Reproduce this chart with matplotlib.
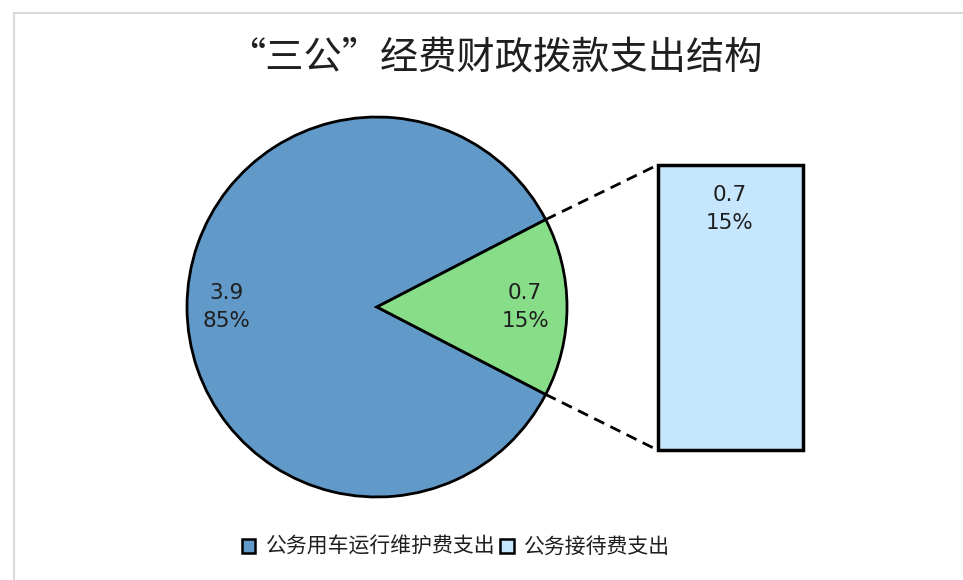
import matplotlib.pyplot as plt
from matplotlib.patches import Patch
import numpy as np

plt.rcParams['font.family'] = ['Noto Sans CJK SC', 'DejaVu Sans']

# ===== data =====
title = '“三公”经费财政拨款支出结构'
categories = ['公务用车运行维护费支出', '公务接待费支出']
values = [3.9, 0.7]
pie_pcts = ['85%', '15%']
bar_values = [0.7]
bar_pcts = ['15%']

blue = '#6199C8'
green = '#88DE88'
lightblue = '#C5E6FC'

W, H = 963, 580
fig = plt.figure(figsize=(W / 100, H / 100), dpi=100)
ax = fig.add_axes([0, 0, 1, 1])

# ===== pie =====
cx, cy, r = 377, H - 307, 190
span = 360 * values[1] / sum(values)
wedges, _ = ax.pie(values, colors=[blue, green], startangle=span / 2,
                   center=(cx, cy), radius=r, frame=True,
                   wedgeprops=dict(edgecolor='black', linewidth=2))
ax.set_xlim(0, W)
ax.set_ylim(0, H)
ax.set_aspect('equal')
ax.axis('off')

# frame of the chart area
ax.plot([14, W], [H - 13, H - 13], color='#D9D9D9', lw=1.5)
ax.plot([14, 14], [H - 13, 0], color='#D9D9D9', lw=1.5)

label_dist = [0.795, 0.78]
for w, v, p, d in zip(wedges, values, pie_pcts, label_dist):
    mid = np.deg2rad((w.theta1 + w.theta2) / 2)
    ax.text(cx + d * r * np.cos(mid), cy + d * r * np.sin(mid),
            f'{v}\n{p}', ha='center', va='center', fontsize=15.5,
            color='#1f1f1f', family='DejaVu Sans', linespacing=1.5)

# ===== bar of pie =====
bar_x, bar_w = 730, 145
bar_bottom, bar_scale = H - 450, 285
heights = [bar_scale * v / sum(bar_values) for v in bar_values]
bars = ax.bar([bar_x], heights, width=bar_w, bottom=bar_bottom,
              color=lightblue, edgecolor='black', linewidth=2.5)
top = bar_bottom + sum(heights)
for b, v, p in zip(bars, bar_values, bar_pcts):
    ax.text(b.get_x() + b.get_width() / 2, b.get_y() + b.get_height() - 44,
            f'{v}\n{p}', ha='center', va='center', fontsize=15.5,
            color='#1f1f1f', family='DejaVu Sans', linespacing=1.5)

# connector lines
a = np.deg2rad(span / 2)
left = bar_x - bar_w / 2
ax.plot([cx + r * np.cos(a), left], [cy + r * np.sin(a), top],
        color='black', lw=2, ls=(0, (4, 2.5)))
ax.plot([cx + r * np.cos(-a), left], [cy + r * np.sin(-a), bar_bottom],
        color='black', lw=2, ls=(0, (4, 2.5)))

# ===== title & legend =====
fig.text(495 / W, 1 - 58 / H, title, ha='center', va='center',
         fontsize=27.5, color='#1f1f1f')

handles = [Patch(facecolor=c, edgecolor='black', linewidth=1.8)
           for c in [blue, lightblue]]
fig.legend(handles, categories, loc='center', bbox_to_anchor=(456 / W, 1 - 547 / H),
           ncol=2, frameon=False, fontsize=15, handlelength=0.65,
           handleheight=0.65, handletextpad=0.5, columnspacing=0.25,
           labelcolor='#1f1f1f')

fig.savefig('out.png', dpi=100)
